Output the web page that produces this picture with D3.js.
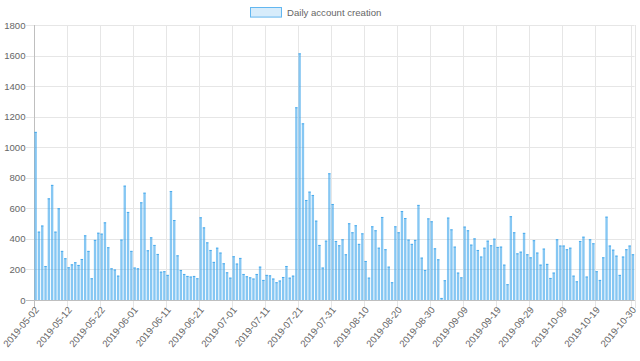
<!DOCTYPE html>
<html>
<head>
<meta charset="utf-8">
<script src="https://cdn.jsdelivr.net/npm/d3@7/dist/d3.min.js"></script>
<style>
  html, body { margin: 0; padding: 0; background: #fff; }
  svg { display: block; font-family: "Liberation Sans", Arial, Helvetica, sans-serif; }
</style>
</head>
<body>
<svg id="chart" width="640" height="361"></svg>
<script>
// ---- data ----
const seriesName = "Daily account creation";
const startDate = "2019-05-02";
const endDate = "2019-10-30";
const accounts = [
  1100, 447, 487, 222, 665, 753, 447, 600, 321, 273, 214, 233, 247, 229, 268, 423, 321, 142, 393, 440,
  434, 508, 345, 207, 199, 159, 395, 748, 576, 321, 212, 207, 639, 702, 325, 410, 360, 301, 185, 188,
  164, 713, 523, 292, 196, 170, 157, 153, 157, 142, 541, 475, 377, 327, 249, 342, 310, 240, 181, 146,
  286, 238, 275, 170, 155, 148, 140, 170, 218, 131, 164, 161, 140, 116, 127, 150, 222, 146, 159, 1261,
  1614, 1156, 654, 709, 687, 519, 360, 212, 388, 829, 628, 386, 358, 397, 299, 502, 443, 489, 367, 436,
  255, 146, 482, 456, 342, 543, 332, 218, 116, 482, 443, 582, 536, 395, 367, 393, 622, 277, 196, 534,
  515, 338, 266, 13, 129, 539, 462, 349, 179, 148, 480, 456, 362, 403, 327, 284, 342, 388, 358, 401,
  347, 349, 231, 103, 548, 443, 305, 316, 439, 299, 279, 391, 310, 231, 336, 236, 144, 179, 397, 356,
  356, 332, 342, 159, 122, 386, 414, 153, 397, 371, 188, 131, 279, 545, 356, 329, 290, 164, 284, 332,
  356, 299
];
const xTickLabels = [
  "2019-05-02", "2019-05-12", "2019-05-22", "2019-06-01", "2019-06-11", "2019-06-21", "2019-07-01",
  "2019-07-11", "2019-07-21", "2019-07-31", "2019-08-10", "2019-08-20", "2019-08-30", "2019-09-09",
  "2019-09-19", "2019-09-29", "2019-10-09", "2019-10-19", "2019-10-30"
];
const yTicks = [0, 200, 400, 600, 800, 1000, 1200, 1400, 1600, 1800];

(function () {
// ---- categories ----
const fmt = d3.timeFormat("%Y-%m-%d");
const parse = d3.timeParse("%Y-%m-%d");
const categories = d3.timeDay.range(parse(startDate), d3.timeDay.offset(parse(endDate), 1)).map(fmt);

// ---- layout ----
const svg = d3.select("#chart");
const pLeft = 34, pRight = 634.6, pTop = 25, pBottom = 300;
const fontSize = 9.6;
const textColor = "#666";
const gridColor = "#e6e6e6";
const axisColor = "#bfbfbf";

const x = d3.scaleBand().domain(categories).range([pLeft, pRight]).paddingInner(0).paddingOuter(0);
const y = d3.scaleLinear().domain([0, 1800]).range([pBottom, pTop]);
const step = x.step();

// horizontal grid + y tick marks
const gY = svg.append("g");
gY.selectAll("line.h").data(yTicks).join("line")
  .attr("x1", pLeft - 8).attr("x2", pRight)
  .attr("y1", d => Math.round(y(d)) + 0.5).attr("y2", d => Math.round(y(d)) + 0.5)
  .attr("stroke", d => d === 0 ? axisColor : gridColor).attr("stroke-width", 1);
gY.selectAll("text").data(yTicks).join("text")
  .attr("x", pLeft - 8.5).attr("y", d => y(d))
  .attr("text-anchor", "end").attr("dominant-baseline", "central")
  .attr("font-size", fontSize).attr("fill", textColor)
  .text(d => d);

// vertical grid lines at the left edge of each labelled category, plus the end line
const gridIdx = xTickLabels.map(l => categories.indexOf(l));
const gridXs = gridIdx.map(i => x(categories[i])).concat([pRight]);
svg.append("g").selectAll("line.v").data(gridXs).join("line")
  .attr("x1", d => Math.round(d) + 0.5).attr("x2", d => Math.round(d) + 0.5)
  .attr("y1", pTop).attr("y2", pBottom + 8)
  .attr("stroke", (d, i) => i === 0 ? axisColor : gridColor).attr("stroke-width", 1);

// bars
const barW = step * 0.72;
const bars = svg.append("g");
bars.selectAll("rect").data(accounts).join("rect")
  .attr("x", (d, i) => x(categories[i]) + (step - barW) / 2)
  .attr("width", barW)
  .attr("y", d => y(d))
  .attr("height", d => pBottom - y(d))
  .attr("fill", "rgba(54,162,235,0.6)");
bars.selectAll("line").data(accounts).join("line")
  .attr("x1", (d, i) => x(categories[i]) + (step - barW) / 2)
  .attr("x2", (d, i) => x(categories[i]) + (step + barW) / 2)
  .attr("y1", d => y(d) + 0.4).attr("y2", d => y(d) + 0.4)
  .attr("stroke", "rgb(54,162,235)").attr("stroke-width", 0.8);

// re-draw zero axis line on top
svg.append("line").attr("x1", pLeft).attr("x2", pRight)
  .attr("y1", pBottom + 0.5).attr("y2", pBottom + 0.5)
  .attr("stroke", axisColor);

// x tick labels (rotated)
const angle = 50;
svg.append("g").selectAll("text").data(xTickLabels).join("text")
  .attr("transform", d => `translate(${x(d) + step / 2 + 1},${pBottom + 8}) rotate(${-angle})`)
  .attr("text-anchor", "end").attr("dominant-baseline", "central")
  .attr("font-size", fontSize).attr("fill", textColor)
  .text(d => d);

// legend
const legend = svg.append("g");
legend.append("rect")
  .attr("x", 250.5).attr("y", 7.5).attr("width", 31).attr("height", 9.6)
  .attr("fill", "rgba(54,162,235,0.2)").attr("stroke", "rgba(54,162,235,0.75)").attr("stroke-width", 1);
legend.append("text")
  .attr("x", 287).attr("y", 12.5)
  .attr("dominant-baseline", "central")
  .attr("font-size", fontSize).attr("fill", textColor)
  .text(seriesName);
})();
</script>
</body>
</html>
